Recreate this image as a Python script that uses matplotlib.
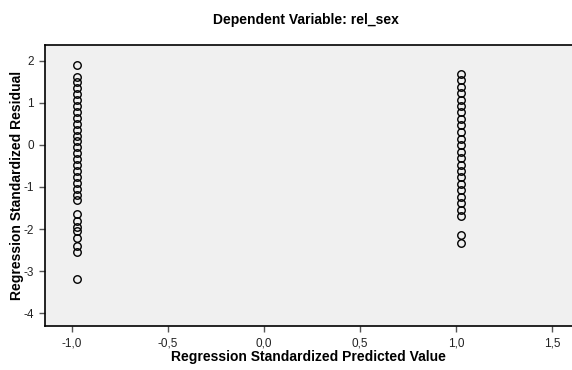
import matplotlib.pyplot as plt
import numpy as np
from matplotlib.ticker import FuncFormatter

plt.rcParams['font.family'] = ['Liberation Sans', 'DejaVu Sans']

# standardized predicted values (two groups) and their residuals
pred_low = -0.975
pred_high = 1.025
resid_low = [1.90, 1.62, 1.48, 1.34, 1.20, 1.06, 0.92, 0.78, 0.64, 0.50, 0.36,
             0.22, 0.08, -0.06, -0.20, -0.34, -0.48, -0.62, -0.76, -0.90,
             -1.04, -1.18, -1.32, -1.65, -1.80, -1.95, -2.05, -2.20, -2.40,
             -2.55, -3.18]
resid_high = [1.69, 1.54, 1.38, 1.23, 1.07, 0.92, 0.77, 0.61, 0.46, 0.30, 0.15,
              0.00, -0.16, -0.31, -0.47, -0.62, -0.77, -0.93, -1.08, -1.24,
              -1.39, -1.55, -1.70, -2.15, -2.32]

x_ticks = [-1.0, -0.5, 0.0, 0.5, 1.0, 1.5]
y_ticks = [2, 1, 0, -1, -2, -3, -4]

fig = plt.figure(figsize=(5.72, 3.70), dpi=100)
ax = fig.add_axes([45/572, 44/370, 1 - 45/572, 281/370])
ax.set_facecolor('#f0f0f0')

x = np.r_[np.full(len(resid_low), pred_low), np.full(len(resid_high), pred_high)]
y = np.r_[resid_low, resid_high]
ax.plot(x, y, linestyle='None', marker='o', markersize=5.4,
        markerfacecolor='none', markeredgecolor='black', markeredgewidth=1.0)

ax.set_xlim(-1.139, 1.604)
ax.set_ylim(-4.30, 2.37)
ax.set_xticks(x_ticks)
ax.set_yticks(y_ticks)
ax.xaxis.set_major_formatter(FuncFormatter(lambda v, p: f"{v:.1f}".replace('.', ',')))
ax.yaxis.set_major_formatter(FuncFormatter(lambda v, p: f"{int(round(v))}"))
ax.tick_params(direction='out', length=4, width=1, color='#555555',
               labelsize=8.5, labelcolor='#222222', pad=4)

for side in ['left', 'bottom', 'top']:
    ax.spines[side].set_color('black')
    ax.spines[side].set_linewidth(1.2)
ax.spines['right'].set_visible(False)

ax.set_xlabel("Regression Standardized Predicted Value", fontsize=10,
              fontweight='bold', va='center')
ax.xaxis.set_label_coords(0.5, -(357 - 326) / 281)
ax.set_ylabel("Regression Standardized Residual", fontsize=10,
              fontweight='bold', va='center')
ax.yaxis.set_label_coords(-(45 - 17) / 527, 0.5)
fig.text(0.5 * (45 + 572) / 572 - 0.005, 1 - 20/370, "Dependent Variable: rel_sex",
         fontsize=10, fontweight='bold', ha='center', va='center')

fig.savefig("out.png", dpi=100, facecolor='white')
